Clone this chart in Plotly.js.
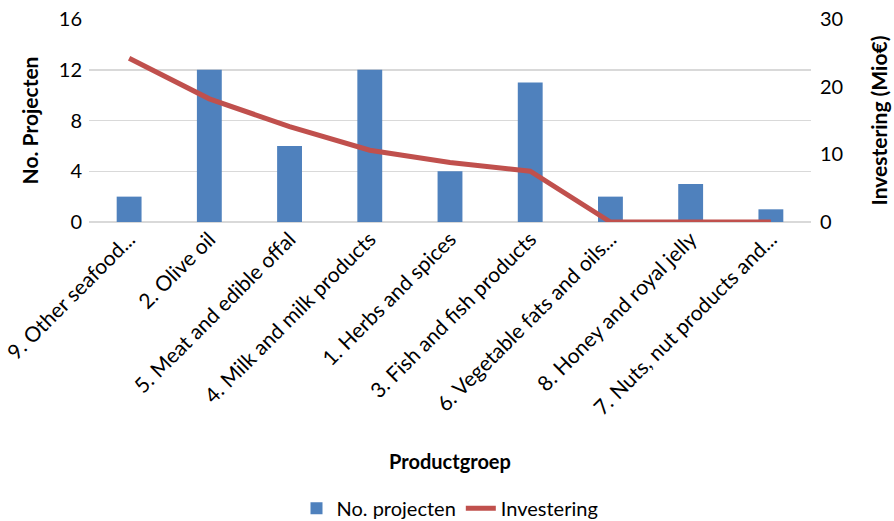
<!DOCTYPE html>
<html>
<head>
<meta charset="utf-8">
<script src="https://cdn.plot.ly/plotly-3.0.1.min.js"></script>
<style>
  html, body { margin: 0; padding: 0; background: #fff; }
  #chart { width: 894px; height: 521px; }
</style>
</head>
<body>
<div id="chart"></div>
<script>
// Product groups, number of projects and investment (million euro)
const categories = [
  "9. Other seafood...",
  "2. Olive oil",
  "5. Meat and edible offal",
  "4. Milk and milk products",
  "1. Herbs and spices",
  "3. Fish and fish products",
  "6. Vegetable fats and oils...",
  "8. Honey and royal jelly",
  "7. Nuts, nut products and..."
];
const projecten = [2, 12, 6, 12, 4, 11, 2, 3, 1];
const investering = [24.2, 18.2, 14.1, 10.6, 8.8, 7.5, 0, 0, 0];

const leftTicks = [0, 4, 8, 12, 16];
const rightTicks = [0, 10, 20, 30];

const fontFamily = "Lato, 'Open Sans', sans-serif";

const traces = [
  {
    type: "bar",
    name: "No. projecten",
    x: categories,
    y: projecten,
    marker: { color: "#4F81BD" },
    yaxis: "y"
  },
  {
    type: "scatter",
    mode: "lines",
    name: "Investering",
    x: categories,
    y: investering,
    line: { color: "#C0504D", width: 5 },
    yaxis: "y2"
  }
];

const layout = {
  width: 894,
  height: 521,
  margin: { l: 89, r: 83, t: 19, b: 299, autoexpand: false },
  paper_bgcolor: "#ffffff",
  plot_bgcolor: "#ffffff",
  font: { family: fontFamily, size: 20, color: "#000000" },
  bargap: 0.69,
  showlegend: true,
  legend: {
    orientation: "h",
    x: 0.5,
    xanchor: "center",
    y: -1.41,
    yanchor: "middle",
    font: { size: 20 },
    traceorder: "normal"
  },
  xaxis: {
    type: "category",
    automargin: false,
    tickangle: -45,
    tickfont: { size: 21 },
    showgrid: false,
    showline: false,
    ticks: "",
    title: { text: "<b>Productgroep</b>", font: { size: 20 }, standoff: 36 }
  },
  yaxis: {
    automargin: false,
    range: [0, 16],
    tickvals: leftTicks,
    ticks: "",
    showline: false,
    gridcolor: "#D9D9D9",
    gridwidth: 1.5,
    zeroline: true,
    zerolinecolor: "#D9D9D9",
    zerolinewidth: 1.5,
    tickfont: { size: 20 },
    ticklabelstandoff: 6,
    title: { text: "<b>No. Projecten</b>", font: { size: 21 }, standoff: 14 }
  },
  yaxis2: {
    automargin: false,
    overlaying: "y",
    side: "right",
    range: [0, 30],
    tickvals: rightTicks,
    ticks: "",
    showgrid: false,
    zeroline: false,
    showline: false,
    tickfont: { size: 20 },
    ticklabelstandoff: 8,
    title: { text: "<b>Investering (Mio€)</b>", font: { size: 21 }, standoff: 30 }
  }
};

Plotly.newPlot("chart", traces, layout, { staticPlot: true, displayModeBar: false });
</script>
</body>
</html>
